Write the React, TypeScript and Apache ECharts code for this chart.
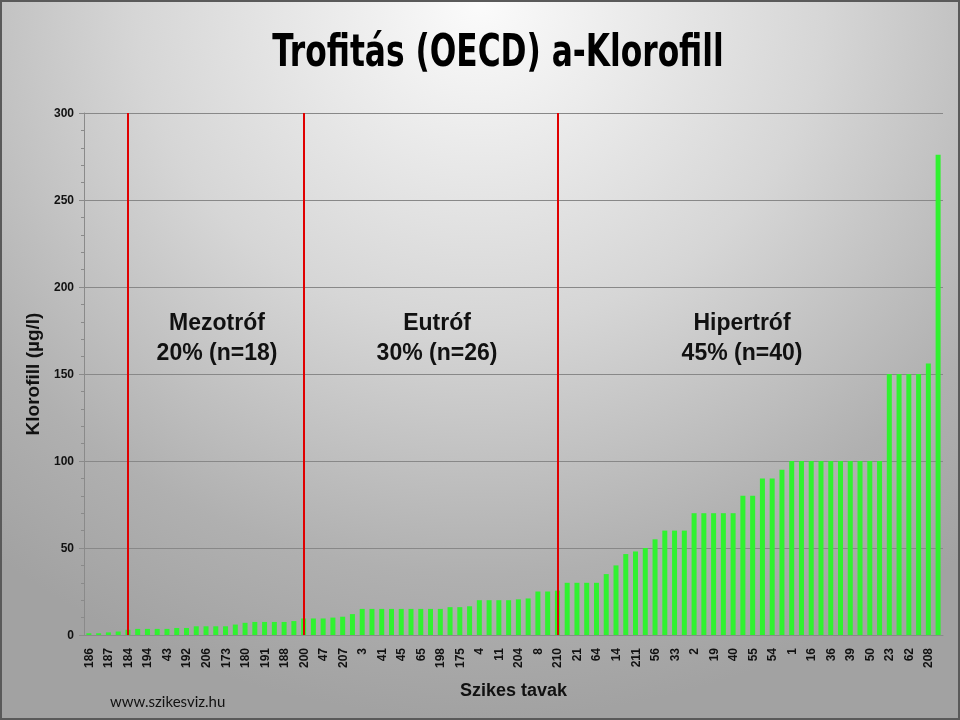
import React, { useEffect, useRef } from "react";
import * as echarts from "echarts";

// Every other lake label is printed on the axis (the rest are unlabelled in the source)
const tickLabels = [
  "186", "187", "184", "194", "43", "192", "206", "173", "180", "191", "188",
  "200", "47", "207", "3", "41", "45", "65", "198", "175", "4", "11",
  "204", "8", "210", "21", "64", "14", "211", "56", "33", "2", "19",
  "40", "55", "54", "1", "16", "36", "39", "50", "23", "62", "208",
];

const values = [
  1, 1, 1.5, 2, 3, 3.5, 3.5, 3.5, 3.5, 4,
  4, 5, 5, 5, 5, 6, 7, 7.5, 7.5, 7.5,
  7.5, 8, 9.5, 9.5, 9.5, 10, 10.5, 12, 15, 15,
  15, 15, 15, 15, 15, 15, 15, 16, 16, 16.5,
  20, 20, 20, 20, 20.5, 21, 25, 25, 25.5, 30,
  30, 30, 30, 35, 40, 46.5, 48, 50, 55, 60,
  60, 60, 70, 70, 70, 70, 70, 80, 80, 90,
  90, 95, 100, 100, 100, 100, 100, 100, 100, 100,
  100, 100, 150, 150, 150, 150, 156, 276,
];

const categories = values.map((_, i) => (i % 2 === 0 ? tickLabels[i / 2] : ""));

// first category index of each trophic class
const boundaries = [4, 22, 48];
const classNames = ["Mezotróf", "Eutróf", "Hipertróf"];
const classShares = ["20% (n=18)", "30% (n=26)", "45% (n=40)"];

const yTicks = [0, 50, 100, 150, 200, 250, 300];

export default function App() {
  const ref = useRef<HTMLDivElement>(null);
  useEffect(() => {
    if (!ref.current) return;
    const chart = echarts.init(ref.current, undefined, { renderer: "svg" });
    const arial = '"Liberation Sans", Arial, sans-serif';
    const annX = [215, 435, 740];
    chart.setOption({
      animation: false,
      backgroundColor: "transparent",
      grid: { left: 82, right: 15, top: 111, bottom: 83 },
      xAxis: {
        type: "category",
        data: categories,
        name: "Szikes tavak",
        nameLocation: "middle",
        nameGap: 46,
        nameTextStyle: { fontFamily: arial, fontWeight: "bold", fontSize: 18, color: "#111" },
        axisLine: { lineStyle: { color: "#8a8a8a" } },
        axisTick: { show: false },
        axisLabel: {
          interval: 0,
          rotate: 90,
          margin: 13,
          fontFamily: arial,
          fontWeight: "bold",
          fontSize: 12,
          color: "#111",
        },
      },
      yAxis: {
        type: "value",
        min: yTicks[0],
        max: yTicks[yTicks.length - 1],
        interval: 50,
        name: "Klorofill (µg/l)",
        nameLocation: "middle",
        nameGap: 42,
        nameRotate: 90,
        nameTextStyle: { fontFamily: arial, fontWeight: "bold", fontSize: 19, color: "#111" },
        axisLine: { show: true, lineStyle: { color: "#8a8a8a" } },
        axisTick: { show: true, length: 5, lineStyle: { color: "#8a8a8a" } },
        minorTick: { show: true, splitNumber: 5, length: 3, lineStyle: { color: "#8a8a8a" } },
        axisLabel: { margin: 10, fontFamily: arial, fontWeight: "bold", fontSize: 12, color: "#111" },
        splitLine: { lineStyle: { color: "#888888", width: 1 } },
      },
      series: [
        {
          type: "bar",
          data: values,
          barWidth: 5,
          itemStyle: { color: "#30f230" },
          markLine: {
            silent: true,
            symbol: ["none", "none"],
            label: { show: false },
            lineStyle: { color: "#e00000", width: 2, type: "solid" },
            data: boundaries.map((b) => ({ xAxis: b })),
          },
        },
      ],
      graphic: [
        {
          type: "text",
          x: 496,
          y: 48,
          scaleX: 0.79,
          style: {
            text: "Trofitás (OECD) a-Klorofill",
            fontFamily: '"DejaVu Sans Condensed", "DejaVu Sans", sans-serif',
            fontWeight: "bold",
            fontSize: 44,
            fill: "#000",
            textAlign: "center",
            textVerticalAlign: "middle",
          },
        },
        ...classNames.map((n, i) => ({
          type: "text",
          x: annX[i],
          y: 335,
          style: {
            text: n + "\n" + classShares[i],
            fontFamily: arial,
            fontWeight: "bold",
            fontSize: 23,
            lineHeight: 30,
            fill: "#111",
            textAlign: "center",
            textVerticalAlign: "middle",
          },
        })),
        {
          type: "text",
          x: 108,
          y: 699,
          style: {
            text: "www.szikesviz.hu",
            fontFamily: "Lato, sans-serif",
            fontSize: 15,
            fill: "#111",
            textAlign: "left",
            textVerticalAlign: "middle",
          },
        },
      ],
    });
    return () => chart.dispose();
  }, []);
  return (
    <div
      style={{
        position: "fixed",
        left: 0,
        top: 0,
        width: 960,
        height: 720,
        boxSizing: "border-box",
        border: "2px solid #5a5a5a",
        background:
          "radial-gradient(ellipse 80% 100% at 50% 0%, #fbfbfb 0%, #d6d6d6 45%, #b0b0b0 80%, #a2a2a2 100%)",
      }}
    >
      <div ref={ref} style={{ width: 956, height: 716 }} />
    </div>
  );
}
